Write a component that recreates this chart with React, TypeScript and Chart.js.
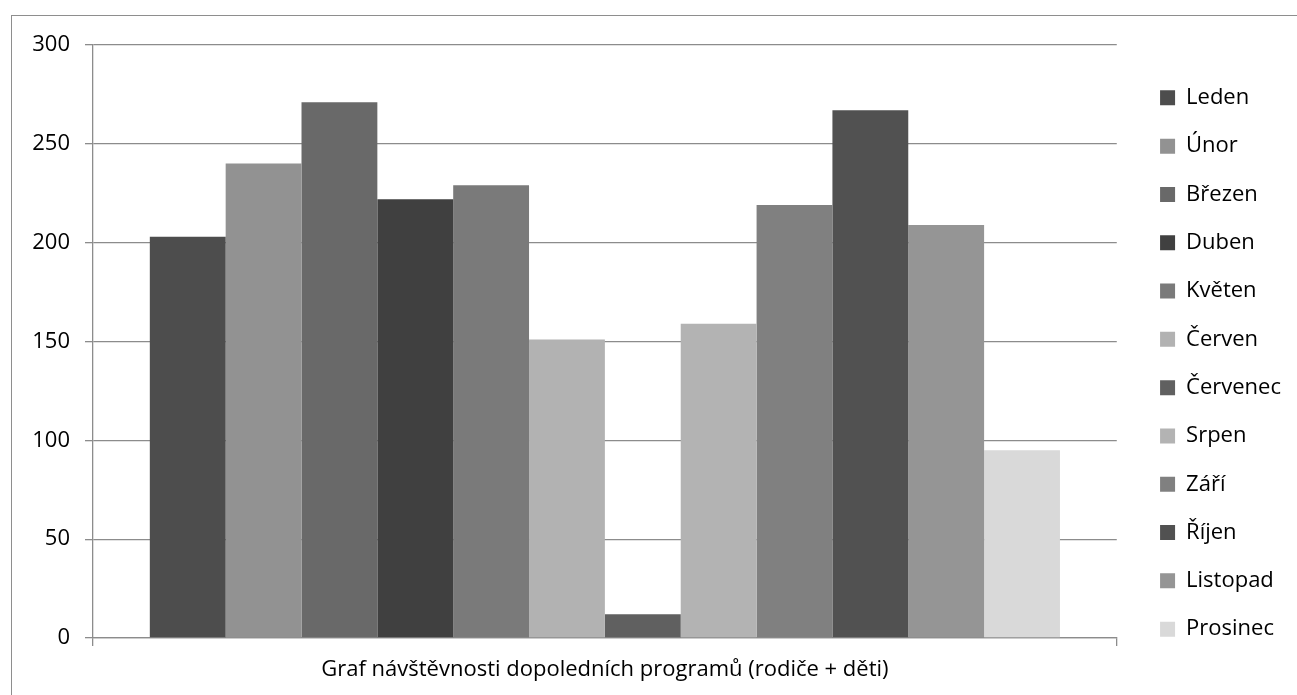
import React, { useEffect, useRef } from "react";
import { Chart, registerables } from "chart.js";

Chart.register(...registerables);

const categories = ["Graf návštěvnosti dopoledních programů (rodiče + děti)"];
const months = [
  "Leden", "Únor", "Březen", "Duben", "Květen", "Červen",
  "Červenec", "Srpen", "Září", "Říjen", "Listopad", "Prosinec",
];
const visits = [203, 240, 271, 222, 229, 151, 12, 159, 219, 267, 209, 95];
const colors = [
  "#4d4d4d", "#929292", "#696969", "#404040", "#7a7a7a", "#b2b2b2",
  "#606060", "#b3b3b3", "#808080", "#515151", "#959595", "#d9d9d9",
];
const yMin = 0;
const yMax = 300;
const yStep = 50;

const FONT_FAMILY = "'Open Sans', 'Noto Sans', sans-serif";
const FONT_SIZE = 22;
const LINE = "#8c8c8c";

export default function App() {
  const canvasRef = useRef<HTMLCanvasElement | null>(null);

  useEffect(() => {
    if (!canvasRef.current) return;
    const font = { family: FONT_FAMILY, size: FONT_SIZE };
    const chart = new Chart(canvasRef.current, {
      type: "bar",
      data: {
        labels: categories,
        datasets: months.map((m, i) => ({
          label: m,
          data: [visits[i]],
          backgroundColor: colors[i],
          borderWidth: 0,
          barPercentage: 1,
          categoryPercentage: 0.889,
        })),
      },
      options: {
        animation: false,
        responsive: false,
        events: [],
        layout: { padding: { left: 11, top: 45, right: 6, bottom: 13 } },
        plugins: {
          tooltip: { enabled: false },
          legend: {
            position: "right",
            labels: {
              boxWidth: 15,
              boxHeight: 15,
              padding: 26.3,
              color: "#000",
              font,
            },
          },
        },
        scales: {
          x: {
            grid: {
              drawOnChartArea: false,
              tickLength: 8,
              color: LINE,
              lineWidth: 1.3,
            },
            border: { color: LINE, width: 1.3 },
            ticks: { color: "#000", font, padding: 11 },
            afterFit: (s: any) => {
              s.height = 44;
            },
          },
          y: {
            min: yMin,
            max: yMax,
            ticks: { stepSize: yStep, color: "#000", font, padding: 15 },
            grid: { color: LINE, lineWidth: 1.3, tickLength: 8 },
            border: { color: LINE, width: 1.3 },
            afterFit: (s: any) => {
              s.width = 82;
            },
          },
          y2: {
            type: "linear",
            position: "right",
            display: true,
            grid: { display: false },
            border: { display: false },
            ticks: { display: false },
            afterFit: (s: any) => {
              s.width = 17;
            },
          },
        },
      },
    } as any);
    return () => chart.destroy();
  }, []);

  return (
    <div
      style={{
        position: "fixed",
        left: 0,
        top: 0,
        width: 1297,
        height: 695,
        overflow: "hidden",
        background: "#fff",
      }}
    >
      <div
        style={{
          position: "absolute",
          left: 11,
          top: 15,
          width: 1310,
          height: 700,
          border: "1.5px solid #8e8e8e",
          boxSizing: "border-box",
        }}
      />
      <canvas
        ref={canvasRef}
        width={1297}
        height={695}
        style={{ position: "absolute", left: 0, top: 0 }}
      />
    </div>
  );
}
